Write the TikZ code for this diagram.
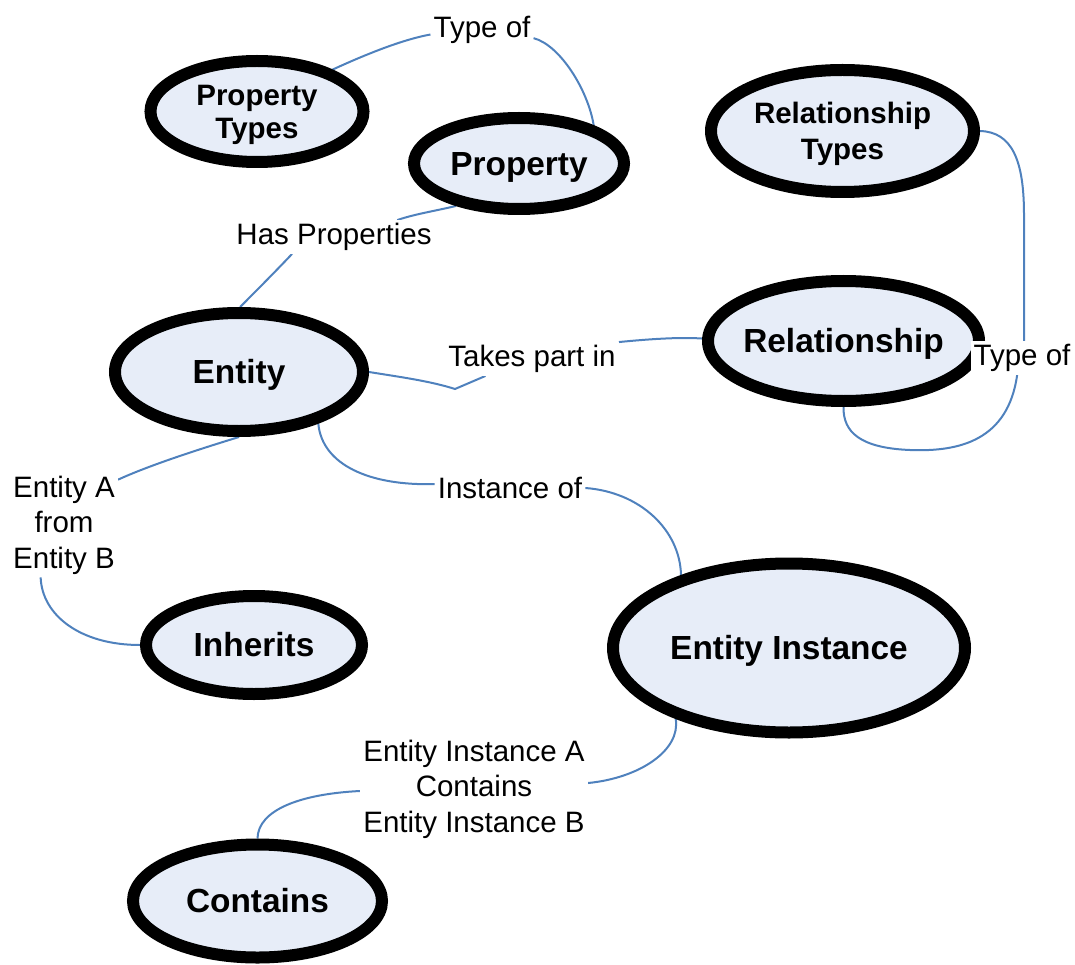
\documentclass[tikz,border=0pt]{standalone}
\usepackage{fontspec}
\setmainfont{Liberation Sans}
\usetikzlibrary{shapes.geometric}
\pgfdeclarelayer{links}
\pgfsetlayers{links,main}
\definecolor{ovalfill}{RGB}{231,237,248}
\definecolor{linkblue}{RGB}{79,129,189}

\begin{document}
\begin{tikzpicture}[x=1pt,y=-1pt,
  % text boxes are set to the cap height so the capitals sit on the oval centre
  oval/.style={ellipse, draw=black, line width=12pt, fill=ovalfill, inner sep=0pt,
    font=\fontsize{33.4}{38}\selectfont\bfseries, text height=23.9pt, text depth=0pt},
  twoline/.style={oval, font=\fontsize{29.5}{#1}\selectfont\bfseries,
    text height=#1pt+21.1pt, text depth=0pt},
  tag/.style={fill=white, inner sep=3pt, align=center,
    font=\fontsize{29.5}{35.5}\selectfont},
  link/.style={draw=linkblue, line width=2pt}]

\useasboundingbox (0,0) rectangle (1075,965);

% concept ovals
\node[twoline=33, minimum width=213pt, minimum height=101pt] (ptypes) at (257,111.5)
  {\makebox[0pt]{\begin{tabular}[b]{@{}c@{}}Property\\Types\end{tabular}}};
\node[oval, minimum width=210pt, minimum height=91pt] (prop) at (519,163.5)
  {\makebox[0pt]{Property}};
\node[twoline=36, minimum width=263pt, minimum height=122pt] (rtypes) at (842.5,131)
  {\makebox[0pt]{\begin{tabular}[b]{@{}c@{}}Relationship\\Types\end{tabular}}};
\node[oval, minimum width=271pt, minimum height=120pt] (rel) at (843.5,341)
  {\makebox[0pt]{Relationship}};
\node[oval, minimum width=248pt, minimum height=118pt] (ent) at (239,372)
  {\makebox[0pt]{Entity}};
\node[oval, minimum width=216pt, minimum height=98pt] (inh) at (254,645)
  {\makebox[0pt]{Inherits}};
\node[oval, minimum width=352pt, minimum height=169pt] (inst) at (789,648)
  {\makebox[0pt]{Entity Instance}};
\node[oval, minimum width=249pt, minimum height=113pt] (cont) at (257.5,901)
  {\makebox[0pt]{Contains}};

% link phrases
\node[tag] (typeA) at (482,30) {Type of};
\node[tag] (hasp) at (334,237) {Has Properties};
\node[tag] (takes) at (532,359) {Takes part in};
\node[tag] (instof) at (510,488) {Instance of};
\node[tag] (fromB) at (64,525) {Entity A\\from\\Entity B};
\node[tag] (contAB) at (474,789) {Entity Instance A\\Contains\\Entity Instance B};
\node[tag] (typeB) at (1022,358) {Type of};

% connectors, kept behind the ovals and phrases
\begin{pgfonlayer}{links}
\draw[link] (ptypes.29) .. controls (360,57) and (400,40) .. (typeA.185);
\draw[link] (typeA.-9) .. controls (560,45) and (588,90) .. (prop.27);

\draw[link] (prop.214) .. controls (435,211) and (415,214) .. (hasp.15);
\draw[link] (hasp.202) .. controls (275,272) and (255,292) .. (ent.89);

\draw[link] (ent.east) .. controls (400,377) and (430,381) .. (455,389) -- (takes.200);
\draw[link] (takes.north east) .. controls (650,339) and (680,337) .. (rel.179);

\draw[link] (ent.327) .. controls (322,465) and (370,486) .. (instof.177);
\draw[link] (instof.east) .. controls (640,492) and (680,530) .. (inst.146);

\draw[link] (ent.270) .. controls (200,449) and (150,465) .. (fromB.40);
\draw[link] (fromB.246) .. controls (42,615) and (80,645) .. (inh.west);

\draw[link] (inst.212) .. controls (681,750) and (640,778) .. (contAB.3);
\draw[link] (contAB.181) .. controls (300,794) and (258,810) .. (cont.north);

\draw[link] (rtypes.east) .. controls (1012,132) and (1024,160) .. (1024,215) -- (typeB.83);
\draw[link] (typeB.254) .. controls (1008,440) and (960,452) .. (910,450)
  .. controls (860,448) and (843,432) .. (rel.south);
\end{pgfonlayer}
\end{tikzpicture}
\end{document}
